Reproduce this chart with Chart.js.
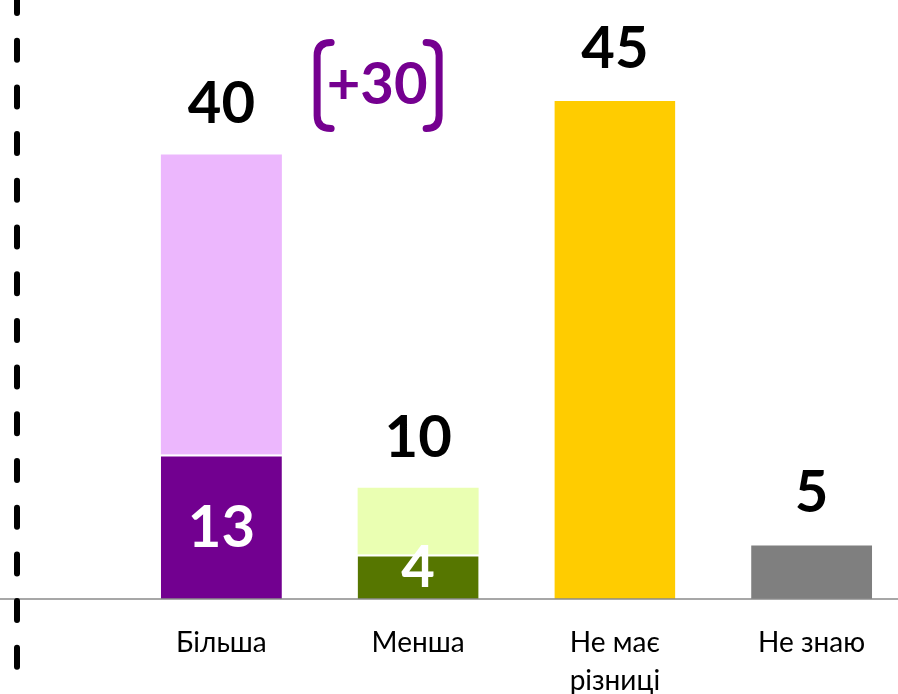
<!DOCTYPE html>
<html lang="uk">
<head>
    <meta charset="utf-8">
    <title>Більша / Менша</title>
    <script src="https://cdn.jsdelivr.net/npm/chart.js@4.4.1/dist/chart.umd.min.js"></script>
    <style>
        html, body {
            margin: 0;
            padding: 0;
            background: #ffffff;
            overflow: hidden;
        }
        #chart {
            display: block;
        }
    </style>
</head>
<body>
    <canvas id="chart" width="910" height="694"></canvas>
    <script>
        // Categories and values
        const categories = ['Більша', 'Менша', ['Не має', 'різниці'], 'Не знаю'];
        const lowerValues = [13, 4, 45, 5];
        const upperValues = [27, 6, 0, 0];
        const gapLabel = '+30';

        const lowerColors = ['#720090', '#567600', '#ffcc00', '#7f7f7f'];
        const upperColors = ['#ecb7fd', '#eaffb2', '#ffcc00', '#7f7f7f'];

        const FONT = 'Lato, "Open Sans", sans-serif';

        // Draws totals, inner labels, the bracket note, baseline and dashed divider
        const decorations = {
            id: 'decorations',
            afterDatasetsDraw(chart) {
                const ctx = chart.ctx;
                const lower = chart.getDatasetMeta(0).data;
                const upper = chart.getDatasetMeta(1).data;
                const yScale = chart.scales.y;
                const xScale = chart.scales.x;
                const base = yScale.getPixelForValue(0);

                ctx.save();

                // baseline
                ctx.strokeStyle = '#8a8a8a';
                ctx.lineWidth = 1.5;
                ctx.beginPath();
                ctx.moveTo(0, base);
                ctx.lineTo(chart.width, base);
                ctx.stroke();

                // dashed divider
                ctx.strokeStyle = '#000000';
                ctx.lineWidth = 6;
                ctx.lineCap = 'round';
                ctx.setLineDash([19, 27.7]);
                ctx.lineDashOffset = 6;
                ctx.beginPath();
                ctx.moveTo(17, 0);
                ctx.lineTo(17, chart.height);
                ctx.stroke();
                ctx.setLineDash([]);

                ctx.textAlign = 'center';
                ctx.textBaseline = 'middle';
                ctx.font = 'bold 58px ' + FONT;

                categories.forEach((c, i) => {
                    const total = lowerValues[i] + upperValues[i];
                    const topBar = upperValues[i] > 0 ? upper[i] : lower[i];
                    ctx.fillStyle = '#000000';
                    ctx.fillText(String(total), topBar.x, topBar.y - 50);

                    if (upperValues[i] > 0) {
                        const seg = lower[i];
                        const y = Math.min((seg.y + seg.base) / 2 + 2, seg.base - 31);
                        ctx.fillStyle = '#ffffff';
                        ctx.fillText(String(lowerValues[i]), seg.x, y);
                    }
                });

                // bracketed difference note
                const nx = xScale.getPixelForValue(1) - 41;
                const ny = yScale.getPixelForValue(lowerValues[0] + upperValues[0]) - 69;
                ctx.fillStyle = '#750090';
                ctx.fillText(gapLabel, nx, ny);

                ctx.strokeStyle = '#750090';
                ctx.lineWidth = 7;
                ctx.lineCap = 'round';
                const top = ny - 40, bot = ny + 40;
                // left bracket
                ctx.beginPath();
                ctx.moveTo(nx - 46, top - 3);
                ctx.quadraticCurveTo(nx - 60, top - 3, nx - 60, top + 10);
                ctx.lineTo(nx - 60, bot - 10);
                ctx.quadraticCurveTo(nx - 60, bot + 3, nx - 46, bot + 3);
                ctx.stroke();
                // right bracket
                ctx.beginPath();
                ctx.moveTo(nx + 49, top - 3);
                ctx.quadraticCurveTo(nx + 62, top - 3, nx + 62, top + 10);
                ctx.lineTo(nx + 62, bot - 10);
                ctx.quadraticCurveTo(nx + 62, bot + 3, nx + 49, bot + 3);
                ctx.stroke();

                ctx.restore();
            }
        };

        new Chart(document.getElementById('chart'), {
            type: 'bar',
            data: {
                labels: categories,
                datasets: [
                    {
                        data: lowerValues,
                        backgroundColor: lowerColors,
                        borderColor: '#ffffff',
                        borderWidth: { top: 2, left: 0, right: 0, bottom: 0 },
                        borderSkipped: false,
                        stack: 's'
                    },
                    {
                        data: upperValues,
                        backgroundColor: upperColors,
                        borderWidth: 0,
                        stack: 's'
                    }
                ]
            },
            options: {
                responsive: false,
                animation: false,
                devicePixelRatio: 1,
                barPercentage: 0.615,
                categoryPercentage: 1,
                layout: { padding: { left: 123, right: 0, top: 0, bottom: 0 } },
                plugins: {
                    legend: { display: false },
                    tooltip: { enabled: false }
                },
                scales: {
                    x: {
                        grid: { display: false },
                        border: { display: false },
                        ticks: {
                            color: '#000000',
                            padding: 17,
                            font: { family: FONT, size: 28, lineHeight: 1.35 },
                            maxRotation: 0
                        },
                        afterFit(scale) { scale.height = 95; }
                    },
                    y: {
                        display: false,
                        stacked: true,
                        min: 0,
                        max: 53.9
                    }
                }
            },
            plugins: [decorations]
        });
    </script>
</body>
</html>
